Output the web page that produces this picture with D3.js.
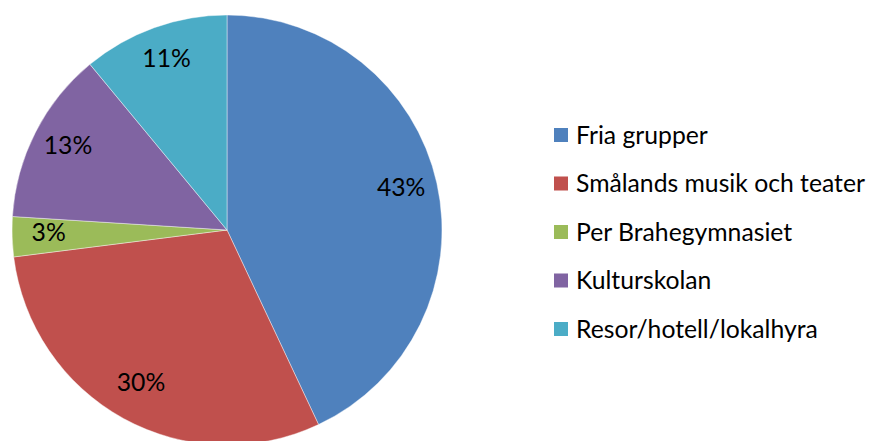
<!DOCTYPE html>
<html><head><meta charset="utf-8">
<script src="https://cdn.jsdelivr.net/npm/d3@7"></script>
<style>html,body{margin:0;padding:0;background:#fff;}svg{display:block;}</style>
</head><body>
<svg id="chart" width="869" height="441"></svg>
<script>
const categories = ["Fria grupper","Smålands musik och teater","Per Brahegymnasiet","Kulturskolan","Resor/hotell/lokalhyra"];
const values = [43, 30, 3, 13, 11];
const colors = ["#4F81BD","#C0504D","#9BBB59","#8064A2","#4BACC6"];

const svg = d3.select("#chart");
const font = "Lato, 'Open Sans', sans-serif";
const cx = 227, cy = 230, r = 215;

const pie = d3.pie().sort(null).value(d => d)(values);
const arc = d3.arc().innerRadius(0).outerRadius(r);
const labelArc = d3.arc().innerRadius(r * 0.83).outerRadius(r * 0.83);
const total = d3.sum(values);

const g = svg.append("g").attr("transform", `translate(${cx},${cy})`);
g.selectAll("path").data(pie).join("path")
  .attr("d", arc)
  .attr("fill", (d, i) => colors[i])
  .attr("stroke", "#ffffff").attr("stroke-width", 0.6).attr("stroke-opacity", 0.7);

// determine font size by measuring longest legend label against target width
const probe = svg.append("text").attr("font-family", font).attr("font-size", 20).text(categories[1]);
const w20 = probe.node().getComputedTextLength();
probe.remove();
const fs = 20 * 289 / w20;

g.selectAll("text").data(pie).join("text")
  .attr("transform", d => `translate(${labelArc.centroid(d)})`)
  .attr("text-anchor", "middle").attr("dy", "0.2em")
  .attr("font-family", font).attr("font-size", fs).attr("fill", "#000")
  .text(d => Math.round(d.data / total * 100) + "%");

const legendY = d3.scalePoint().domain(categories).range([135, 329]);
const lg = svg.append("g");
const items = lg.selectAll("g").data(categories).join("g")
  .attr("transform", d => `translate(554,${legendY(d)})`);
items.append("rect").attr("x", 0).attr("y", -7).attr("width", 14).attr("height", 14)
  .attr("fill", (d, i) => colors[i]);
items.append("text").attr("x", 22).attr("y", 0).attr("dy", "0.35em")
  .attr("font-family", font).attr("font-size", fs).attr("fill", "#000")
  .text(d => d);
</script>
</body></html>
